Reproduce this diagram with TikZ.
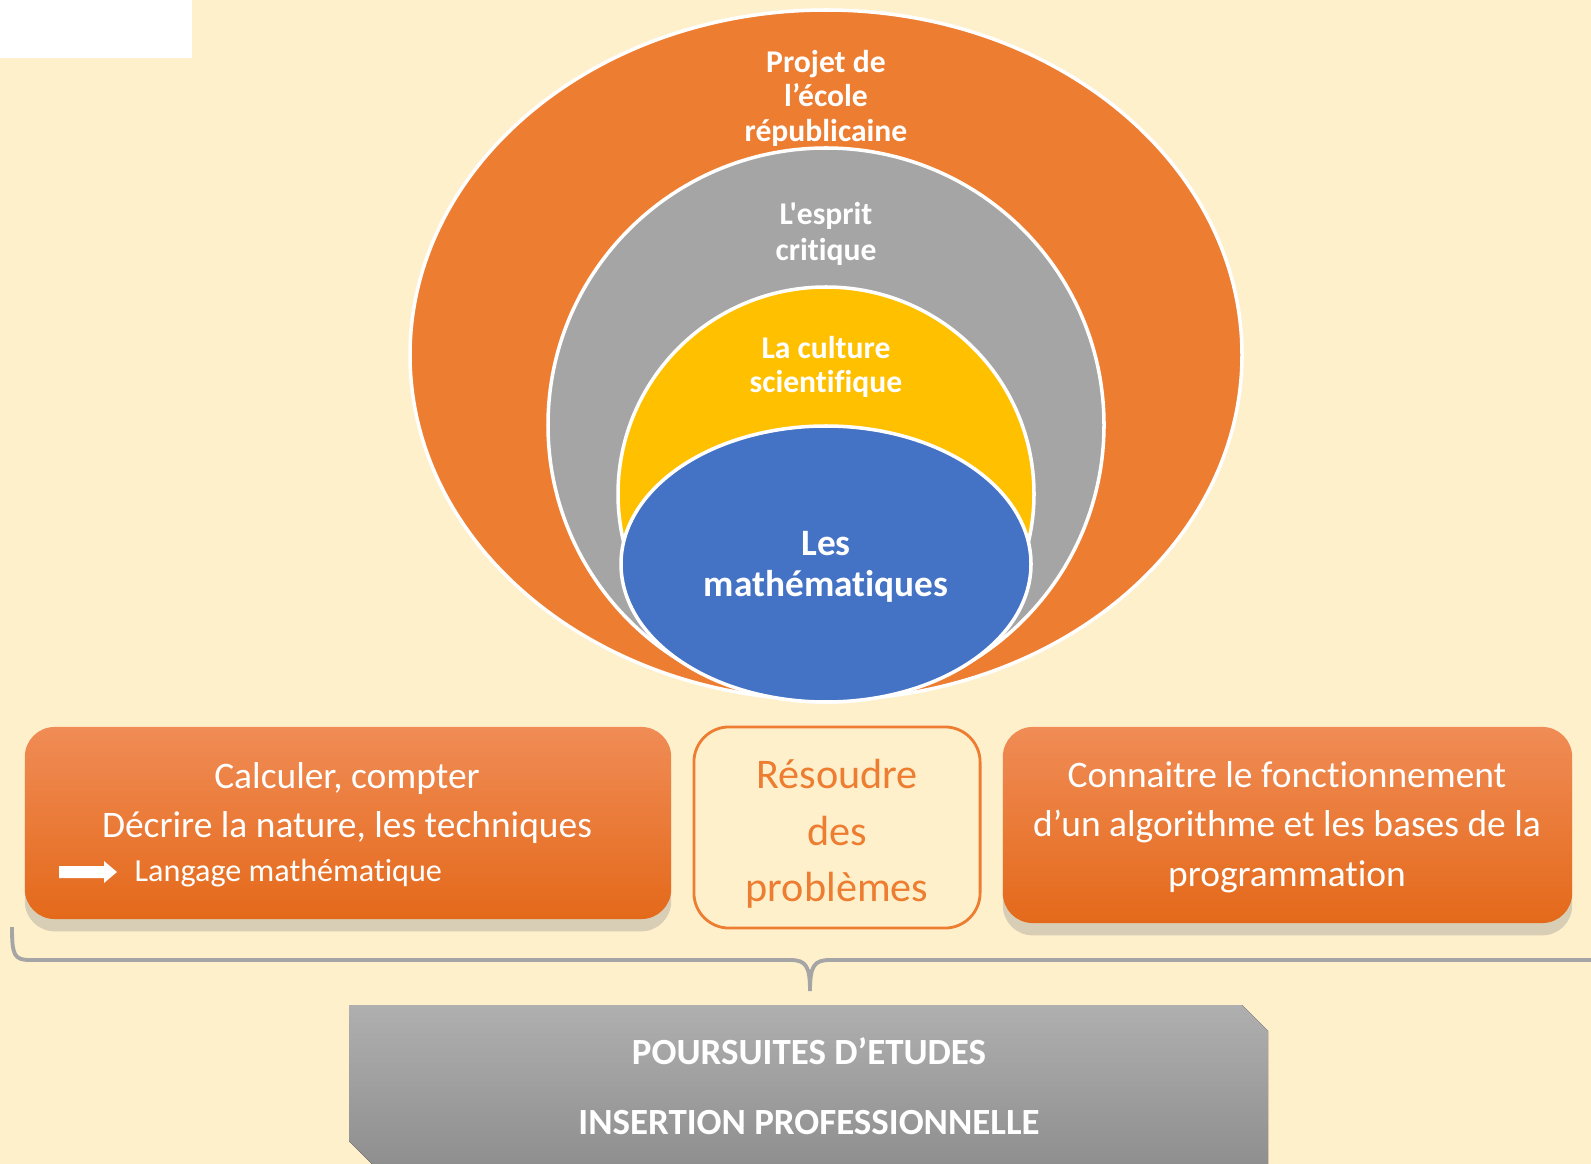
\documentclass[tikz,border=0pt]{standalone}
\usepackage{fontspec}
\setmainfont{Carlito}[Ligatures={TeXOff,CommonOff}]
\usetikzlibrary{calc,shadows}

\definecolor{fond}{HTML}{FFF0CC}
\definecolor{orangeA}{HTML}{ED7D31}
\definecolor{orangeH}{HTML}{F08C56}
\definecolor{orangeM}{HTML}{F47D2B}
\definecolor{orangeB}{HTML}{E4691A}
\definecolor{grisA}{HTML}{A5A5A5}
\definecolor{grisH}{HTML}{AFAFAF}
\definecolor{grisB}{HTML}{8F8F8F}
\definecolor{jauneA}{HTML}{FFC000}
\definecolor{bleuA}{HTML}{4472C4}

\begin{document}
\begin{tikzpicture}
[x=0.01cm,y=-0.01cm,
 bulle/.style={draw=white,line width=1pt},
 titre/.style={text=white,align=center,font=\bfseries\fontsize{9}{9.8}\selectfont},
 carte/.style={rounded corners=8.5pt,inner sep=0pt,
   top color=orangeH,middle color=orangeM,bottom color=orangeB,
   drop shadow={opacity=0.3,shadow xshift=0pt,shadow yshift=-3.5pt}},
 texte/.style={text=white,align=center,font=\fontsize{10.65}{14}\selectfont}]

\useasboundingbox (0,0) rectangle (1591,1164);

% the background
\fill[fond] (0,0) rectangle (1591,1164);
\fill[white] (0,0) rectangle (192,58);

% the nested ellipses
\draw[bulle,fill=orangeA] (826,355) ellipse [x radius=416,y radius=345];
\draw[bulle,fill=grisA] (826,425) ellipse [x radius=278,y radius=277];
\draw[bulle,fill=jauneA] (826,494) ellipse [x radius=208,y radius=207];
\draw[bulle,fill=bleuA] (826,564) ellipse [x radius=205,y radius=138];

% labelling the ellipses
\node[titre] (projet) at (826,98) {Projet de\\l’école\\républicaine};
\node[titre,font=\bfseries\fontsize{9}{10.2}\selectfont] (esprit) at (826,234) {L'esprit\\critique};
\node[titre] (culture) at (826,367) {La culture\\scientifique};
\node[titre,font=\bfseries\fontsize{10.6}{11.7}\selectfont] (maths) at (826,567) {Les\\mathématiques};

% the three boxes
\node[carte,minimum width=6.46cm,minimum height=1.92cm] (calcul) at (348,823) {};
\node[draw=orangeA,fill=fond,line width=0.8pt,rounded corners=10pt,
  minimum width=2.86cm,minimum height=2.01cm] (resoudre) at (837,827.5) {};
\node[carte,minimum width=5.69cm,minimum height=1.96cm] (algo) at (1287.5,825) {};

\node[texte] (calcul-t) at (347,803) {Calculer, compter\\Décrire la nature, les techniques};
\fill[white] (59,866) -- (104,866) -- (104,861) -- (117,872) -- (104,883) -- (104,878) -- (59,878) -- cycle;
\node[texte,anchor=west,inner sep=0pt,font=\fontsize{9.15}{12}\selectfont] (langage) at (134,873) {Langage mathématique};
\node[texte,text=orangeA,font=\fontsize{12}{16}\selectfont] (resoudre-t) at (837,834) {Résoudre\\des\\problèmes};
\node[texte] (algo-t) at (1287,827) {Connaitre le fonctionnement\\d’un algorithme et les bases de la\\programmation};

% the brace
\coordinate (bl) at (12,927);
\coordinate (bm) at (810,991);
\coordinate (br) at (1591,960);
\draw[grisA,line width=1.1pt] (bl) .. controls (12,955) and (14,960) .. (30,960) -- (790,960)
  .. controls (806,960) and (810,966) .. (bm) .. controls (810,966) and (814,960) .. (830,960) -- (br);

% the bottom banner
\fill[top color=grisH,bottom color=grisB] (349,1005) -- (1242,1005) -- (1268,1031) -- (1268,1164)
  -- (372,1164) -- (349,1141) -- cycle;
\node[titre,font=\bfseries\fontsize{10.5}{20}\selectfont] (suite) at (809,1086) {POURSUITES D’ETUDES\\INSERTION PROFESSIONNELLE};

%
\end{tikzpicture}
\end{document}
